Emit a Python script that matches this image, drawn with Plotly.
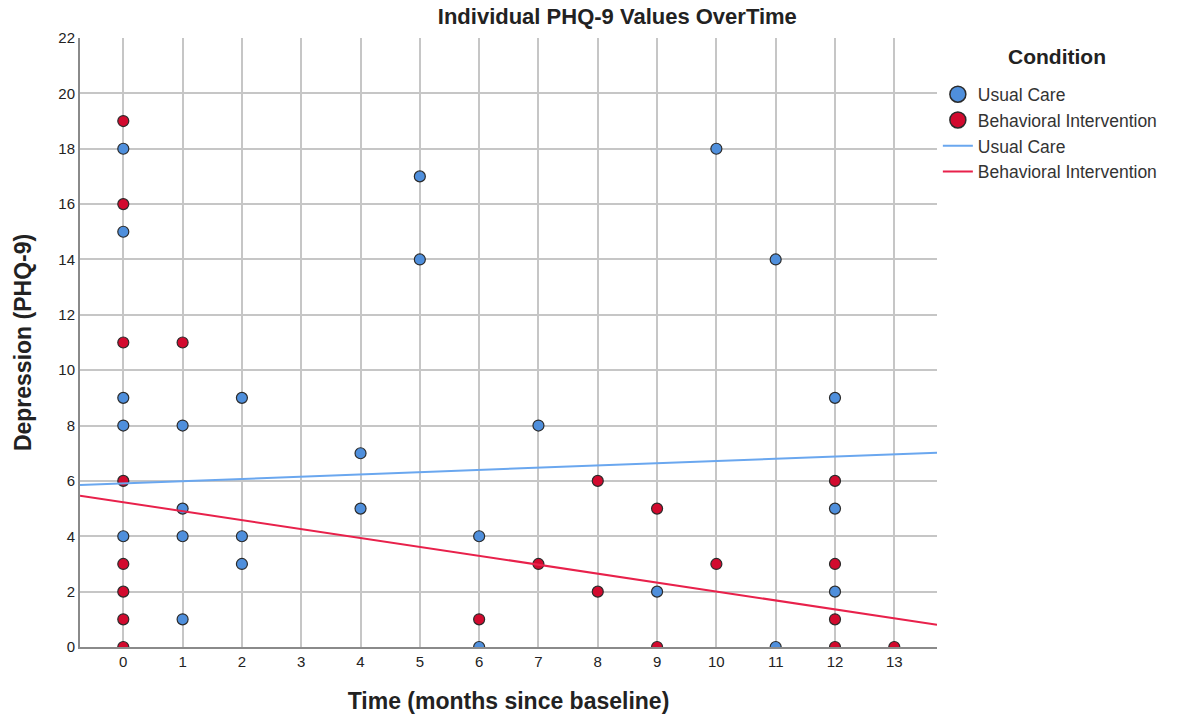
import numpy as np
import plotly.graph_objects as go

# Data
usual_x = [0, 0, 0, 0, 0, 1, 1, 1, 1, 2, 2, 2, 4, 4, 5, 5, 6, 6, 7, 9, 10, 11, 11, 12, 12, 12]
usual_y = [18, 15, 9, 8, 4, 8, 5, 4, 1, 9, 4, 3, 7, 5, 17, 14, 4, 0, 8, 2, 18, 14, 0, 9, 5, 2]

beh_x = [0, 0, 0, 0, 0, 0, 0, 0, 1, 6, 7, 8, 8, 9, 9, 10, 12, 12, 12, 12, 13]
beh_y = [19, 16, 11, 6, 3, 2, 1, 0, 11, 1, 3, 6, 2, 5, 0, 3, 6, 3, 1, 0, 0]

# Fit lines (intercept, slope)
usual_fit = (5.91, 0.081)
beh_fit = (5.23, -0.3225)

x_range = [-0.73, 13.72]
x_ticks = list(range(0, 14))
y_ticks = list(range(0, 23, 2))

BLUE = "#4f8fdc"
RED = "#d20a2e"
BLUE_LINE = "#6aa7ef"
RED_LINE = "#e8214b"
EDGE = "#2b2b2b"

fig = go.Figure()

fig.add_trace(go.Scatter(
    x=usual_x, y=usual_y, mode="markers", name="Usual Care", showlegend=False,
    marker=dict(color=BLUE, size=11, line=dict(color=EDGE, width=1.2)),
))
fig.add_trace(go.Scatter(
    x=beh_x, y=beh_y, mode="markers", name="Behavioral Intervention", showlegend=False,
    marker=dict(color=RED, size=11, line=dict(color=EDGE, width=1.2)),
))

xs = np.array(x_range)
fig.add_trace(go.Scatter(
    x=xs, y=usual_fit[0] + usual_fit[1] * xs, mode="lines", name="Usual Care", showlegend=False,
    line=dict(color=BLUE_LINE, width=2),
))
fig.add_trace(go.Scatter(
    x=xs, y=beh_fit[0] + beh_fit[1] * xs, mode="lines", name="Behavioral Intervention", showlegend=False,
    line=dict(color=RED_LINE, width=2),
))

# Legend-only entries (larger symbols like the reference)
fig.add_trace(go.Scatter(x=[None], y=[None], mode="markers", name="Usual Care",
                         marker=dict(color=BLUE, size=16, line=dict(color=EDGE, width=1.5))))
fig.add_trace(go.Scatter(x=[None], y=[None], mode="markers", name="Behavioral Intervention",
                         marker=dict(color=RED, size=16, line=dict(color=EDGE, width=1.5))))
fig.add_trace(go.Scatter(x=[None], y=[None], mode="lines", name="Usual Care",
                         line=dict(color=BLUE_LINE, width=2)))
fig.add_trace(go.Scatter(x=[None], y=[None], mode="lines", name="Behavioral Intervention",
                         line=dict(color=RED_LINE, width=2)))

font_main = "Liberation Sans, Arial, sans-serif"

fig.update_layout(
    width=1181, height=727,
    margin=dict(l=80, r=244, t=38, b=80),
    paper_bgcolor="white", plot_bgcolor="white",
    font=dict(family=font_main, color="#222", size=14),
    title=dict(
        text="<b>Individual PHQ-9 Values OverTime</b>",
        x=0.627, xref="paper", xanchor="center", y=0.977, yref="container", yanchor="middle",
        font=dict(family="Liberation Sans Narrow, Liberation Sans, Arial", size=22, color="#222"),
    ),
    legend=dict(
        x=1.001, y=0.937, xanchor="left", yanchor="top",
        font=dict(size=17.5, color="#333", family=font_main),
        tracegroupgap=0, itemwidth=30,
        bgcolor="rgba(0,0,0,0)",
    ),
    showlegend=True,
    annotations=[dict(
        text="<b>Condition</b>", xref="paper", yref="paper", x=1.14, y=0.969,
        xanchor="center", yanchor="middle", showarrow=False,
        font=dict(size=21, color="#222", family=font_main),
    )],
)

fig.update_xaxes(
    range=x_range, tickvals=x_ticks, ticktext=[str(v) for v in x_ticks],
    showgrid=True, gridcolor="#c6c6c6", gridwidth=2,
    showline=True, linecolor="#8a8a8a", linewidth=2,
    ticks="", zeroline=False,
    tickfont=dict(size=15, color="#222"),
    title=dict(text="<b>Time (months since baseline)</b>", font=dict(size=23, color="#222"), standoff=24),
)
fig.update_yaxes(
    range=[0, 22], tickvals=y_ticks, ticktext=[str(v) for v in y_ticks],
    showgrid=True, gridcolor="#c6c6c6", gridwidth=2,
    showline=True, linecolor="#8a8a8a", linewidth=2,
    ticks="", zeroline=False,
    tickfont=dict(size=15, color="#222"),
    title=dict(text="<b>Depression (PHQ-9)</b>", font=dict(size=23, color="#222"), standoff=20),
)

fig.write_html("out.html")
